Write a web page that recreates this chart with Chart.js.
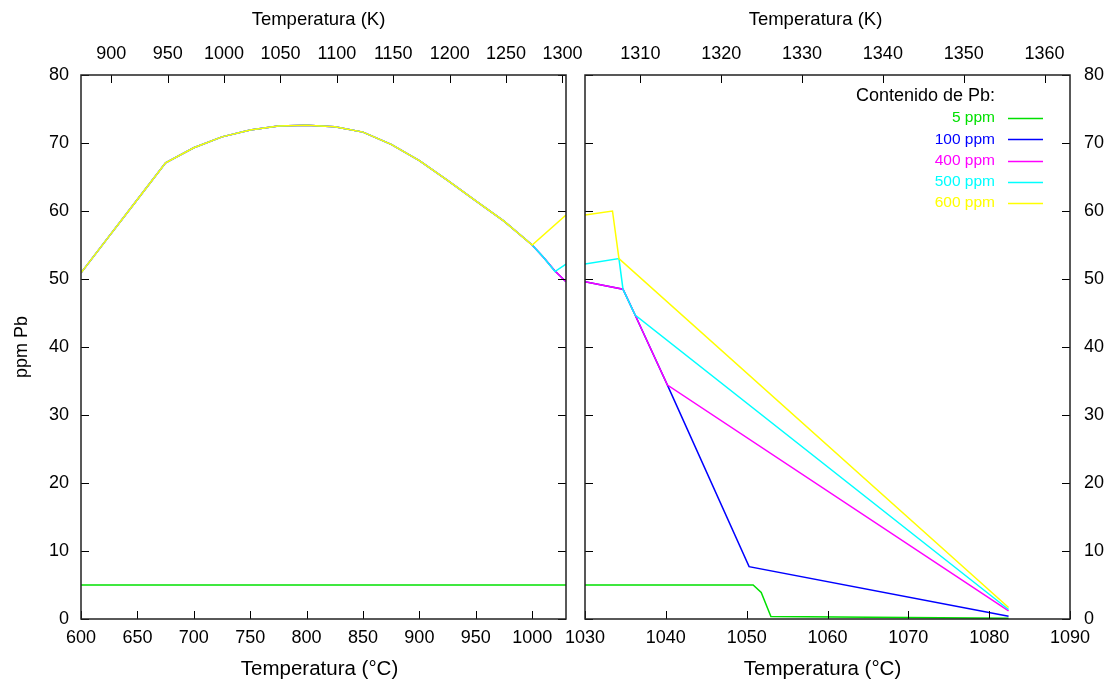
<!DOCTYPE html>
<html>
<head>
<meta charset="utf-8">
<script src="https://cdn.jsdelivr.net/npm/chart.js@4.4.0/dist/chart.umd.min.js"></script>
<style>
  html, body { margin: 0; padding: 0; background: #fff; }
  #wrap { position: relative; width: 1111px; height: 689px; }
  canvas { position: absolute; top: 0; }
  #left { left: 0; }
  #right { left: 545px; }
</style>
</head>
<body>
<div id="wrap">
  <canvas id="left" width="600" height="689"></canvas>
  <canvas id="right" width="566" height="689"></canvas>
</div>
<script>
// shared solubility curve (°C, ppm Pb)
const curveC = [600, 625, 650, 675, 700, 725, 750, 775, 800, 825, 850, 875, 900, 925, 950, 975, 1000];
const curvePb = [50.9, 56.3, 61.7, 67.1, 69.3, 70.9, 71.9, 72.5, 72.6, 72.4, 71.6, 69.8, 67.4, 64.5, 61.5, 58.5, 55.0];

// branches after the shared curve
const t5 = [600, 1050.8, 1051.8, 1053.0, 1082.4];
const pb5 = [5, 5, 3.9, 0.35, 0.1];
const t100 = [1010, 1020, 1030, 1034.7, 1036.2, 1040.2, 1050.3, 1082.4];
const pb100 = [53.2, 51.2, 49.6, 48.5, 44.7, 34.4, 7.7, 0.4];
const t400 = [1010, 1020, 1030, 1034.7, 1036.2, 1040.2, 1082.4];
const pb400 = [53.2, 51.2, 49.6, 48.5, 44.7, 34.4, 1.2];
const t500 = [1010, 1020.2, 1030, 1034.2, 1034.7, 1036.2, 1082.4];
const pb500 = [53.2, 51.1, 52.2, 53.0, 48.5, 44.7, 1.4];
const t600 = [1030, 1033.4, 1034.2, 1082.4];
const pb600 = [59.4, 60.0, 53.0, 1.7];

const labels = ["5 ppm", "100 ppm", "400 ppm", "500 ppm", "600 ppm"];
const colors = ["#00e000", "#0000ff", "#ff00ff", "#00ffff", "#ffff00"];

// tick labels
const yTicks = [0, 10, 20, 30, 40, 50, 60, 70, 80];
const cTicksLeft = [600, 650, 700, 750, 800, 850, 900, 950, 1000];
const kTicksLeft = [900, 950, 1000, 1050, 1100, 1150, 1200, 1250, 1300];
const cTicksRight = [1030, 1040, 1050, 1060, 1070, 1080, 1090];
const kTicksRight = [1310, 1320, 1330, 1340, 1350, 1360];

const titleC = "Temperatura (°C)";
const titleK = "Temperatura (K)";
const titleY = "ppm Pb";
const keyTitle = "Contenido de Pb:";

const K = 273.15;
const FONT = "'Liberation Sans', Arial, Helvetica, sans-serif";
Chart.defaults.font.family = FONT;
Chart.defaults.color = "#000";

function pts(xs, ys) {
  return xs.map((x, i) => ({ x: x, y: ys[i] }));
}

const seriesT = [t5, curveC.concat(t100), curveC.concat(t400), curveC.concat(t500), curveC.concat(t600)];
const seriesV = [pb5, curvePb.concat(pb100), curvePb.concat(pb400), curvePb.concat(pb500), curvePb.concat(pb600)];

function makeDatasets() {
  return labels.map((l, i) => ({
    label: l,
    data: pts(seriesT[i], seriesV[i]),
    borderColor: colors[i],
    borderWidth: 1.5,
    pointRadius: 0,
    tension: 0,
    fill: false,
    order: labels.length - 1 - i,
  }));
}

function fixedTicks(arr) {
  return function (scale) {
    scale.ticks = arr.map(v => ({ value: v }));
  };
}

// inward tick marks on all four sides + black frame
const framePlugin = {
  id: "frame",
  afterDatasetsDraw(chart) {
    const { ctx, chartArea: a, scales } = chart;
    const len = 8;
    ctx.save();
    ctx.strokeStyle = "#000";
    ctx.lineWidth = 1;
    ctx.beginPath();
    scales.x.ticks.forEach(t => {
      const px = Math.round(scales.x.getPixelForValue(t.value)) + 0.5;
      ctx.moveTo(px, a.bottom);
      ctx.lineTo(px, a.bottom - len);
    });
    scales.x2.ticks.forEach(t => {
      const px = Math.round(scales.x2.getPixelForValue(t.value)) + 0.5;
      ctx.moveTo(px, a.top);
      ctx.lineTo(px, a.top + len);
    });
    scales.y.ticks.forEach(t => {
      const py = Math.round(scales.y.getPixelForValue(t.value)) + 0.5;
      ctx.moveTo(a.left, py);
      ctx.lineTo(a.left + len, py);
      ctx.moveTo(a.right, py);
      ctx.lineTo(a.right - len, py);
    });
    ctx.stroke();
    ctx.lineWidth = 1.5;
    ctx.strokeStyle = "#222";
    ctx.strokeRect(a.left, a.top, a.right - a.left, a.bottom - a.top);
    ctx.restore();
  },
};

// axis titles, placed like gnuplot does (slightly left of centre)
function titlePlugin(topShift, bottomShift) {
  return {
    id: "titles",
    afterDraw(chart) {
      const { ctx, chartArea: a } = chart;
      const cx = (a.left + a.right) / 2;
      ctx.save();
      ctx.fillStyle = "#000";
      ctx.textAlign = "center";
      ctx.textBaseline = "middle";
      ctx.font = "20.5px " + FONT;
      ctx.fillText(titleC, cx + bottomShift, 669);
      ctx.font = "18.5px " + FONT;
      ctx.fillText(titleK, cx + topShift, 20);
      ctx.restore();
    },
  };
}

// gnuplot style key in the top right of the right panel
const keyPlugin = {
  id: "key",
  afterDatasetsDraw(chart) {
    const { ctx, chartArea: a } = chart;
    const xr = a.right - 75;
    ctx.save();
    ctx.textAlign = "right";
    ctx.textBaseline = "middle";
    ctx.fillStyle = "#000";
    ctx.font = "18px " + FONT;
    ctx.fillText(keyTitle, xr, a.top + 21);
    ctx.font = "15.5px " + FONT;
    labels.forEach((l, i) => {
      const y = a.top + 43 + i * 21.3;
      ctx.fillStyle = colors[i];
      ctx.fillText(l, xr, y);
      ctx.strokeStyle = colors[i];
      ctx.lineWidth = 1.5;
      ctx.beginPath();
      ctx.moveTo(a.right - 62, Math.round(y) + 0.5);
      ctx.lineTo(a.right - 27, Math.round(y) + 0.5);
      ctx.stroke();
    });
    ctx.restore();
  },
};

function noPad(h, w) {
  return function (scale) {
    if (h !== undefined) scale.height = h;
    if (w !== undefined) scale.width = w;
    scale.paddingLeft = 0;
    scale.paddingRight = 0;
    scale.paddingTop = 0;
    scale.paddingBottom = 0;
  };
}

const tickFont = { size: 18 };
const plain = v => String(v);

function panel(id, cMin, cMax, cTicks, kTicks, yPos, pad, extra) {
  return new Chart(document.getElementById(id).getContext("2d"), {
    type: "line",
    data: { datasets: makeDatasets() },
    options: {
      responsive: false,
      animation: false,
      events: [],
      layout: { padding: pad },
      plugins: { legend: { display: false }, tooltip: { enabled: false } },
      scales: {
        x: {
          type: "linear",
          position: "bottom",
          min: cMin,
          max: cMax,
          afterBuildTicks: fixedTicks(cTicks),
          afterFit: noPad(70),
          grid: { display: false, drawTicks: false },
          border: { display: false },
          ticks: { font: tickFont, padding: 8, maxRotation: 0, autoSkip: false, callback: plain },
        },
        x2: {
          type: "linear",
          position: "top",
          min: cMin + K,
          max: cMax + K,
          afterBuildTicks: fixedTicks(kTicks),
          afterFit: noPad(75),
          grid: { display: false, drawTicks: false },
          border: { display: false },
          ticks: { font: tickFont, padding: 10, maxRotation: 0, autoSkip: false, callback: plain },
        },
        y: {
          type: "linear",
          position: yPos,
          min: 0,
          max: 80,
          afterBuildTicks: fixedTicks(yTicks),
          afterFit: noPad(undefined, yPos === "left" ? 81 : 41),
          grid: { display: false, drawTicks: false },
          border: { display: false },
          ticks: { font: tickFont, padding: yPos === "left" ? 12 : 14, callback: plain },
          title: { display: yPos === "left", text: titleY, font: { size: 18 }, padding: { top: 11, bottom: 0 } },
        },
      },
    },
    plugins: extra,
  });
}

panel("left", 600, 1030, cTicksLeft, kTicksLeft, "left", { left: 0, right: 34, top: 0, bottom: 0 },
  [framePlugin, titlePlugin(-5, -4)]);
panel("right", 1030, 1090, cTicksRight, kTicksRight, "right", { left: 40, right: 0, top: 0, bottom: 0 },
  [framePlugin, keyPlugin, titlePlugin(-12, -5)]);
</script>
</body>
</html>
